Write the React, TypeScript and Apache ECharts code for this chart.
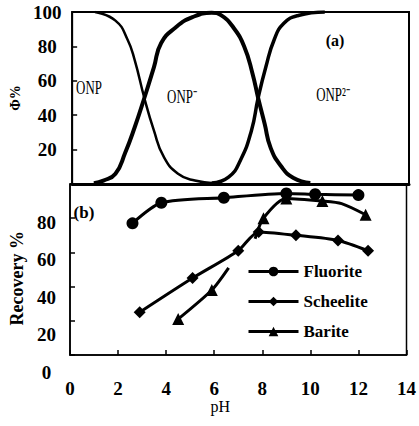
import React, { useEffect, useRef } from "react";
import * as echarts from "echarts";

// Panel (a): species distribution, pH vs Φ%
const onpPH = [0.95, 1.8, 2.3, 2.6, 3.0, 3.4, 3.8, 4.4, 5.1, 5.9];
const onpPhi = [100, 95, 84, 72, 50, 31, 16, 6, 2, 0.5];
const onp1PH = [0.9, 1.3, 1.8, 2.2, 2.6, 3.0, 3.4, 3.7, 4.3, 5.0, 5.8, 6.2, 6.7, 7.15, 7.5, 7.73, 8.0, 8.25, 8.7, 9.2, 9.9];
const onp1Phi = [0.5, 2, 6, 18, 33, 50, 68, 82, 91, 97, 99.5, 98, 91, 80, 64, 50, 35, 21, 10, 3.5, 0.6];
const onp2PH = [5.8, 6.5, 7.0, 7.45, 7.73, 8.05, 8.4, 8.8, 9.4, 10.5];
const onp2Phi = [0.6, 4, 14, 31, 50, 68, 84, 93.5, 98, 100];

// Panel (b): recovery vs pH
const fluoritePH = [2.6, 3.8, 6.4, 9.0, 10.2, 12.0];
const fluoriteRec = [77, 89, 92, 94.5, 94, 93.5];
const scheelitePH = [2.9, 5.1, 7.0, 7.85, 9.4, 11.15, 12.4];
const scheeliteRec = [25, 45, 61, 72, 70, 67, 61];
const baritePH = [4.5, 5.9, 6.6, 7.0, 7.7, 8.05, 9.0, 10.5, 11.3, 12.3];
const bariteRec: (number | string)[] = [21, 38, 51, "-", 68, 80, 91.5, 90, 88.5, 82];
const bariteNoMarker = [2, 4, 8];

const seriesNames = ["Fluorite", "Scheelite", "Barite"];
const speciesLabels = ["ONP", "ONP\u207B", "ONP\u00B2\u207B"];

const FONT = "Liberation Serif";

const zip = (xs: number[], ys: (number | string)[]) => xs.map((x, i) => [x, ys[i]]);

export default function App() {
  const ref = useRef<HTMLDivElement>(null);
  useEffect(() => {
    if (!ref.current) return;
    const chart = echarts.init(ref.current, undefined, { renderer: "svg" });
    const black = "#000";
    const tickLabel = { fontFamily: FONT, fontWeight: "bold" as const, fontSize: 19, color: black };
    const topLine = (name: string, xs: number[], ys: number[], w: number) => ({
      name,
      type: "line",
      xAxisIndex: 0,
      yAxisIndex: 0,
      data: zip(xs, ys),
      smooth: 0.5,
      symbol: "none",
      lineStyle: { color: black, width: w },
    });
    const botLine = (name: string, sym: string, data: any[]) => ({
      name,
      type: "line",
      xAxisIndex: 1,
      yAxisIndex: 1,
      data,
      smooth: 0.25,
      symbol: sym,
      symbolSize: 12,
      itemStyle: { color: black },
      lineStyle: { color: black, width: 3 },
    });
    const bariteData = baritePH.map((x, i) =>
      bariteNoMarker.includes(i) ? { value: [x, bariteRec[i]], symbol: "none" } : { value: [x, bariteRec[i]] }
    );
    const speciesText = (i: number, x: number, y: number) => ({
      type: "text", x, y, scaleX: 0.68,
      style: { text: speciesLabels[i], font: `19px ${FONT}`, fill: black, textAlign: "center", textVerticalAlign: "middle" },
    });
    chart.setOption({
      animation: false,
      backgroundColor: "#fff",
      grid: [
        { left: 70, top: 12, width: 339, height: 172, show: true, borderColor: black, borderWidth: 2 },
        { left: 70, top: 184, width: 339, height: 171, show: true, borderColor: black, borderWidth: 1.5 },
        { left: 70, top: 184.5, width: 339, height: 187.5 },
      ],
      xAxis: [
        {
          gridIndex: 0, type: "value", min: 0, max: 14, interval: 2,
          axisLine: { show: true, lineStyle: { color: black, width: 3 } },
          axisTick: { show: false }, axisLabel: { show: false }, splitLine: { show: false },
        },
        {
          gridIndex: 1, type: "value", min: 0, max: 14, interval: 2,
          name: "pH", nameLocation: "middle", nameGap: 34,
          nameTextStyle: { fontFamily: FONT, fontSize: 16, color: black, padding: [0, 36, 0, 0] },
          axisLine: { show: true, lineStyle: { color: black, width: 1.5 } },
          axisTick: { show: true, inside: true, length: 5, lineStyle: { color: black, width: 1.5 } },
          axisLabel: { ...tickLabel, margin: 24 },
          splitLine: { show: false },
        },
        { gridIndex: 2, type: "value", min: 0, max: 14, show: false },
      ],
      yAxis: [
        {
          gridIndex: 0, type: "value", min: 0, max: 100, interval: 20,
          name: "Φ%", nameLocation: "middle", nameGap: 49,
          nameTextStyle: { fontFamily: FONT, fontWeight: "bold", fontSize: 14, color: black },
          axisLine: { show: true, lineStyle: { color: black, width: 1.5 } },
          axisTick: { show: true, inside: true, length: 5, lineStyle: { color: black, width: 1.5 } },
          axisLabel: { ...tickLabel, align: "center", margin: 25, formatter: (v: number) => (v === 0 ? "" : String(v)) },
          splitLine: { show: false },
        },
        {
          gridIndex: 1, type: "value", min: 0, max: 100, interval: 20,
          axisLine: { show: true, lineStyle: { color: black, width: 1.5 } },
          axisTick: { show: true, inside: true, length: 5, lineStyle: { color: black, width: 1.5 } },
          axisLabel: { show: false },
          splitLine: { show: false },
        },
        {
          gridIndex: 2, type: "value", min: 0, max: 100, interval: 20,
          name: "Recovery %", nameLocation: "middle", nameGap: 44,
          nameTextStyle: { fontFamily: FONT, fontWeight: "bold", fontSize: 18, color: black },
          axisLine: { show: false }, axisTick: { show: false },
          axisLabel: { ...tickLabel, align: "center", margin: 29, formatter: (v: number) => (v === 100 ? "" : String(v)) },
          splitLine: { show: false },
        },
      ],
      legend: {
        data: seriesNames,
        orient: "vertical",
        left: 242,
        top: 258,
        itemWidth: 50,
        itemHeight: 12,
        itemGap: 13,
        lineStyle: { width: 3 },
        textStyle: { fontFamily: FONT, fontWeight: "bold", fontSize: 17, color: black },
      },
      graphic: [
        speciesText(0, 89, 88),
        speciesText(1, 182, 97),
        speciesText(2, 333, 95),
        { type: "text", x: 335, y: 40, style: { text: "(a)", font: `bold 16px ${FONT}`, fill: black, textAlign: "center", textVerticalAlign: "middle" } },
        { type: "text", x: 84, y: 212, style: { text: "(b)", font: `bold 17px ${FONT}`, fill: black, textAlign: "center", textVerticalAlign: "middle" } },
      ],
      series: [
        topLine("ONP", onpPH, onpPhi, 2.5),
        topLine("ONP-", onp1PH, onp1Phi, 4),
        topLine("ONP2-", onp2PH, onp2Phi, 3.5),
        botLine("Fluorite", "circle", zip(fluoritePH, fluoriteRec)),
        botLine("Scheelite", "diamond", zip(scheelitePH, scheeliteRec)),
        botLine("Barite", "triangle", bariteData),
      ],
    });
    return () => chart.dispose();
  }, []);
  return <div ref={ref} style={{ position: "fixed", left: 0, top: 0, width: 419, height: 426 }} />;
}
